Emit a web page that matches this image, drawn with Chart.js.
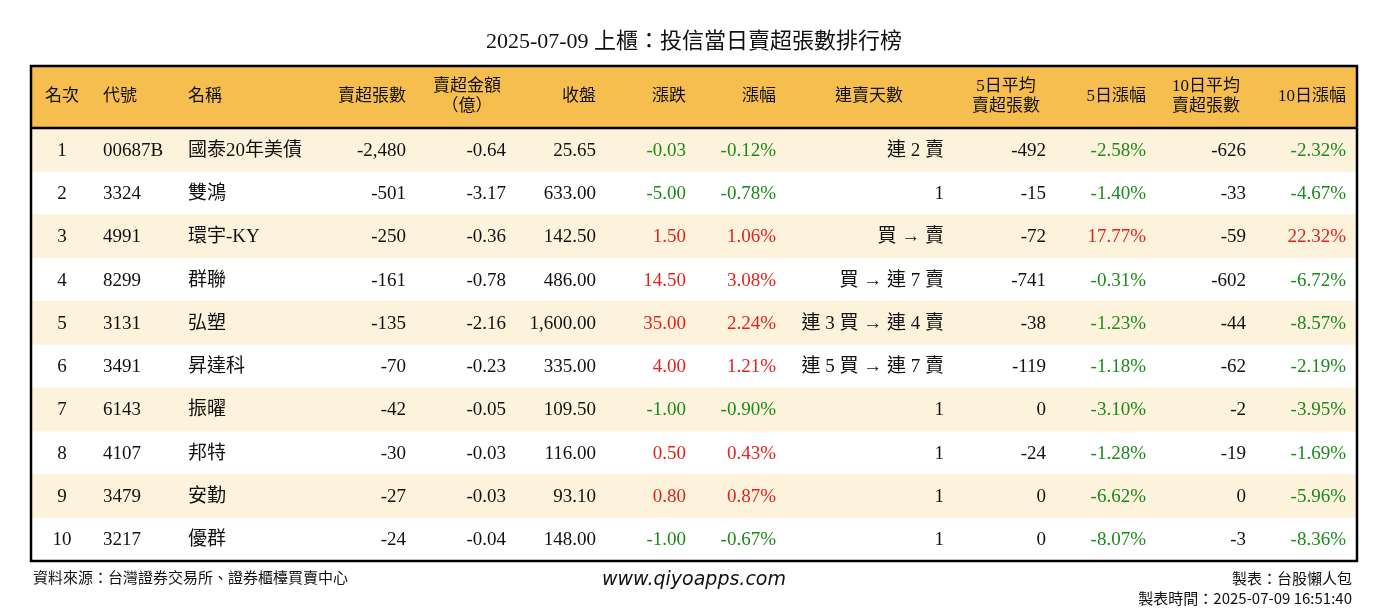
<!DOCTYPE html>
<html><head><meta charset="utf-8">
<script src="https://cdn.jsdelivr.net/npm/chart.js@4"></script>
<style>html,body{margin:0;padding:0;background:#fff}#w{width:1388px;height:612px}</style>
</head><body><div id="w"><canvas id="c"></canvas></div>
<script>
const ranks=['1','2','3','4','5','6','7','8','9','10'];
const codes=['00687B','3324','4991','8299','3131','3491','6143','4107','3479','3217'];
const names=['國泰20年美債','雙鴻','環宇-KY','群聯','弘塑','昇達科','振曜','邦特','安勤','優群'];
const netSell=[-2480,-501,-250,-161,-135,-70,-42,-30,-27,-24];
const amount=[-0.64,-3.17,-0.36,-0.78,-2.16,-0.23,-0.05,-0.03,-0.03,-0.04];
const closePx=[25.65,633.00,142.50,486.00,1600.00,335.00,109.50,116.00,93.10,148.00];
const change=[-0.03,-5.00,1.50,14.50,35.00,4.00,-1.00,0.50,0.80,-1.00];
const changePct=[-0.12,-0.78,1.06,3.08,2.24,1.21,-0.90,0.43,0.87,-0.67];
const streak=['連 2 賣','1','買 → 賣','買 → 連 7 賣','連 3 買 → 連 4 賣','連 5 買 → 連 7 賣','1','1','1','1'];
const avg5=[-492,-15,-72,-741,-38,-119,0,-24,0,0];
const pct5=[-2.58,-1.40,17.77,-0.31,-1.23,-1.18,-3.10,-1.28,-6.62,-8.07];
const avg10=[-626,-33,-59,-602,-44,-62,-2,-19,0,-3];
const pct10=[-2.32,-4.67,22.32,-6.72,-8.57,-2.19,-3.95,-1.69,-5.96,-8.36];

const GREEN='#1a8a1a',RED='#e3221c',BLACK='#111';
const SER='"Liberation Serif","Noto Sans CJK TC",serif';
const fmtInt=v=>v.toLocaleString('en-US');
const fmt2=v=>v.toLocaleString('en-US',{minimumFractionDigits:2,maximumFractionDigits:2});
const col=v=>v>0?RED:(v<0?GREEN:BLACK);
// column anchors in table coordinates (px from table left)
const L=31;
const cols=[
 {h:['名次'],x:62,a:'center',v:i=>[ranks[i],BLACK]},
 {h:['代號'],x:103,a:'left',v:i=>[codes[i],BLACK]},
 {h:['名稱'],x:188,a:'left',v:i=>[names[i],BLACK]},
 {h:['賣超張數'],x:406,a:'right',v:i=>[fmtInt(netSell[i]),BLACK]},
 {h:['賣超金額','（億）'],x:506,a:'right',hx:467,ha:'center',v:i=>[fmt2(amount[i]),BLACK]},
 {h:['收盤'],x:596,a:'right',v:i=>[fmt2(closePx[i]),BLACK]},
 {h:['漲跌'],x:686,a:'right',v:i=>[fmt2(change[i]),col(change[i])]},
 {h:['漲幅'],x:776,a:'right',v:i=>[fmt2(changePct[i])+'%',col(changePct[i])]},
 {h:['連賣天數'],x:944,a:'right',hx:869,ha:'center',v:i=>[streak[i],BLACK]},
 {h:['5日平均','賣超張數'],x:1046,a:'right',hx:1006,ha:'center',v:i=>[fmtInt(avg5[i]),BLACK]},
 {h:['5日漲幅'],x:1146,a:'right',v:i=>[fmt2(pct5[i])+'%',col(pct5[i])]},
 {h:['10日平均','賣超張數'],x:1246,a:'right',hx:1206,ha:'center',v:i=>[fmtInt(avg10[i]),BLACK]},
 {h:['10日漲幅'],x:1346,a:'right',v:i=>[fmt2(pct10[i])+'%',col(pct10[i])]},
];
const stripe=ranks.map((r,i)=>i%2===0?[0,1326]:null);
const plain=ranks.map((r,i)=>i%2===1?[0,1326]:null);
const tablePlugin={id:'tbl',afterDraw(ch){
 const c=ch.ctx,xs=ch.scales.x,ys=ch.scales.y,a=ch.chartArea;
 const X=px=>xs.getPixelForValue(px-L);
 c.save();
 // header
 c.fillStyle='#f6be4f';c.fillRect(a.left,66,a.right-a.left,a.top-66);
 c.textBaseline='middle';
 c.font='17px '+SER;c.fillStyle=BLACK;
 cols.forEach(k=>{
  const hx=k.hx!==undefined?k.hx:k.x,ha=k.ha||k.a;c.textAlign=ha;
  if(k.h.length===1)c.fillText(k.h[0],X(hx),97);
  else{c.fillText(k.h[0],X(hx),87);c.fillText(k.h[1],X(hx),107);}
 });
 // body
 c.font='19px '+SER;
 ranks.forEach((r,i)=>{const y=ys.getPixelForValue(i)+1;
  cols.forEach(k=>{const [t,clr]=k.v(i);c.fillStyle=clr;c.textAlign=k.a;c.fillText(t,X(k.x),y);});
 });
 // borders
 c.strokeStyle='#000';c.lineWidth=2.5;
 c.strokeRect(a.left,66,a.right-a.left,a.bottom-66);
 c.beginPath();c.moveTo(a.left,a.top);c.lineTo(a.right,a.top);c.stroke();
 // title & footer
 c.fillStyle=BLACK;c.textAlign='center';c.font='22px '+SER;
 c.fillText('2025-07-09 上櫃：投信當日賣超張數排行榜',694,42);
 c.font='15px "Noto Sans CJK TC",sans-serif';c.textAlign='left';
 c.fillText('資料來源：台灣證券交易所、證券櫃檯買賣中心',33,577);
 c.textAlign='right';
 c.fillText('製表：台股懶人包',1352,578);
 c.fillText('製表時間：2025-07-09 16:51:40',1352,598);
 c.textAlign='center';c.font='italic 19px "DejaVu Sans",sans-serif';
 c.fillText('www.qiyoapps.com',694,580);
 c.restore();
}};
new Chart(document.getElementById('c'),{
 type:'bar',
 data:{labels:ranks,datasets:[
  {data:stripe,backgroundColor:'#fdf3dc',barPercentage:1,categoryPercentage:1,grouped:false},
  {data:plain,backgroundColor:'#ffffff',barPercentage:1,categoryPercentage:1,grouped:false}
 ]},
 options:{indexAxis:'y',responsive:true,maintainAspectRatio:false,animation:false,
  layout:{padding:{left:31,right:31,top:128,bottom:51}},
  plugins:{legend:{display:false},tooltip:{enabled:false},title:{display:false}},
  scales:{x:{type:'linear',min:0,max:1326,display:false},y:{type:'category',display:false}}
 },
 plugins:[tablePlugin]
});
</script></body></html>
